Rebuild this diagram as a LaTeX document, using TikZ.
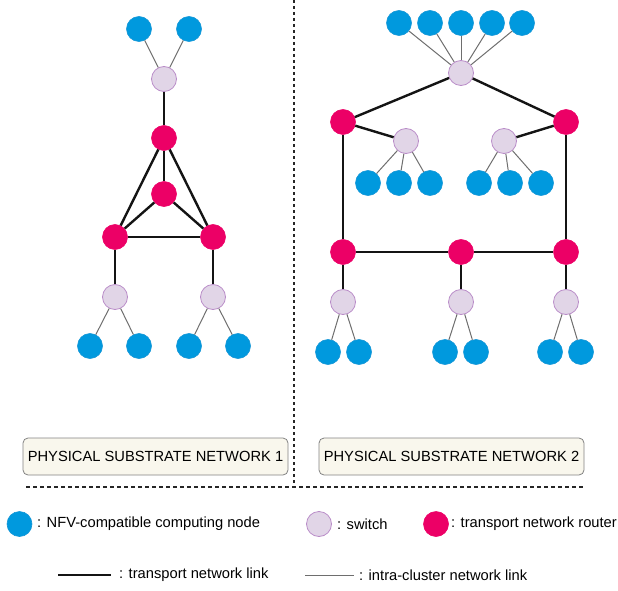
\documentclass[tikz,border=0pt]{standalone}
\usepackage{fontspec}
\setmainfont{Liberation Sans}
\definecolor{nfvblue}{RGB}{0,153,222}
\definecolor{nfvbluedraw}{RGB}{20,150,215}
\definecolor{routerred}{RGB}{236,0,102}
\definecolor{switchfill}{RGB}{225,213,231}
\definecolor{switchdraw}{RGB}{185,140,200}
\definecolor{boxfill}{RGB}{249,247,237}
\definecolor{boxdraw}{RGB}{130,130,130}
\definecolor{thinline}{RGB}{110,110,110}
\definecolor{thickline}{RGB}{20,20,20}
\begin{document}
\begin{tikzpicture}[x=1pt,y=-1pt,
  every node/.style={font=\fontsize{14.7}{17}\selectfont},
  cnode/.style={circle,minimum size=25pt,inner sep=0pt,fill=nfvblue,draw=nfvbluedraw,line width=0.6pt},
  swnode/.style={circle,minimum size=25pt,inner sep=0pt,fill=switchfill,draw=switchdraw,line width=0.8pt},
  rtnode/.style={circle,minimum size=25pt,inner sep=0pt,fill=routerred,draw=routerred,line width=0.6pt},
  tlink/.style={draw=thickline,line width=2.4pt},
  clink/.style={draw=thinline,line width=1pt},
  titlebox/.style={draw=boxdraw,fill=boxfill,rounded corners=5pt,minimum width=265pt,minimum height=37pt,inner sep=0pt,line width=0.8pt},
  legtext/.style={anchor=west,inner sep=0pt}
]
\useasboundingbox (0,0) rectangle (618,591);

% ---------- separators ----------
\coordinate (vtop) at (294,0);
\coordinate (vbot) at (294,487);
\coordinate (hl) at (26,487);
\coordinate (hr) at (585,487);
\draw[line width=1.2pt,dash pattern=on 3pt off 3pt,black!85] (vtop) -- (vbot);
\draw[line width=1.2pt,dash pattern=on 4pt off 3pt,black!85] (hl) -- (hr);

% ---------- network 1 ----------
\node[cnode] (a1) at (139,29) {};
\node[cnode] (a2) at (189,29) {};
\node[swnode] (as) at (164,79) {};
\node[rtnode] (ar0) at (164,138) {};
\node[rtnode] (arm) at (164,194) {};
\node[rtnode] (arl) at (115,237) {};
\node[rtnode] (arr) at (213,237) {};
\node[swnode] (asl) at (115,297) {};
\node[swnode] (asr) at (213,297) {};
\node[cnode] (b1) at (90,346) {};
\node[cnode] (b2) at (139,346) {};
\node[cnode] (b3) at (189,346) {};
\node[cnode] (b4) at (238,346) {};

\draw[clink] (a1) -- (as);
\draw[clink] (a2) -- (as);
\draw[tlink] (as) -- (ar0);
\draw[tlink] (ar0) -- (arm);
\draw[tlink] (ar0) -- (arl);
\draw[tlink] (ar0) -- (arr);
\draw[tlink] (arm) -- (arl);
\draw[tlink] (arm) -- (arr);
\draw[tlink] (arl) -- (arr);
\draw[tlink] (arl) -- (asl);
\draw[tlink] (arr) -- (asr);
\draw[clink] (asl) -- (b1);
\draw[clink] (asl) -- (b2);
\draw[clink] (asr) -- (b3);
\draw[clink] (asr) -- (b4);

% ---------- network 2 ----------
\node[cnode] (t1) at (399,23) {};
\node[cnode] (t2) at (430,23) {};
\node[cnode] (t3) at (461,23) {};
\node[cnode] (t4) at (492,23) {};
\node[cnode] (t5) at (522,23) {};
\node[swnode] (ts) at (461,73) {};
\node[rtnode] (rl) at (343,122) {};
\node[rtnode] (rr) at (566,122) {};
\node[swnode] (sl) at (406,141) {};
\node[swnode] (sr) at (504,141) {};
\node[cnode] (m1) at (368,183) {};
\node[cnode] (m2) at (399,183) {};
\node[cnode] (m3) at (430,183) {};
\node[cnode] (m4) at (479,183) {};
\node[cnode] (m5) at (510,183) {};
\node[cnode] (m6) at (541,183) {};
\node[rtnode] (q1) at (343,252) {};
\node[rtnode] (q2) at (461,252) {};
\node[rtnode] (q3) at (566,252) {};
\node[swnode] (p1) at (343,302) {};
\node[swnode] (p2) at (461,302) {};
\node[swnode] (p3) at (566,302) {};
\node[cnode] (n1) at (328,352) {};
\node[cnode] (n2) at (359,352) {};
\node[cnode] (n3) at (445,352) {};
\node[cnode] (n4) at (476,352) {};
\node[cnode] (n5) at (550,352) {};
\node[cnode] (n6) at (581,352) {};

\foreach \t in {t1,t2,t3,t4,t5} \draw[clink] (\t) -- (ts);
\draw[tlink] (ts) -- (rl);
\draw[tlink] (ts) -- (rr);
\draw[tlink] (rl) -- (sl);
\draw[tlink] (rr) -- (sr);
\foreach \m in {m1,m2,m3} \draw[clink] (sl) -- (\m);
\foreach \m in {m4,m5,m6} \draw[clink] (sr) -- (\m);
\draw[tlink] (rl) -- (q1);
\draw[tlink] (rr) -- (q3);
\draw[tlink] (q1) -- (q2);
\draw[tlink] (q2) -- (q3);
\draw[tlink] (q1) -- (p1);
\draw[tlink] (q2) -- (p2);
\draw[tlink] (q3) -- (p3);
\draw[clink] (p1) -- (n1);
\draw[clink] (p1) -- (n2);
\draw[clink] (p2) -- (n3);
\draw[clink] (p2) -- (n4);
\draw[clink] (p3) -- (n5);
\draw[clink] (p3) -- (n6);

% ---------- title boxes ----------
\node[titlebox] (box1) at (155.5,456.5) {PHYSICAL SUBSTRATE NETWORK 1};
\node[titlebox] (box2) at (451.5,456.5) {PHYSICAL SUBSTRATE NETWORK 2};

% ---------- legend ----------
\node[cnode] (lc) at (19.5,524) {};
\node[legtext] (lct) at (37,524) {: NFV-compatible computing node};
\node[swnode] (ls) at (319,524) {};
\node[legtext] (lst) at (337,524) {: switch};
\node[rtnode] (lr) at (436,524) {};
\node[legtext] (lrt) at (451,524) {: transport network router};

\coordinate (lt1) at (58,575);
\coordinate (lt2) at (111,575);
\draw[tlink] (lt1) -- (lt2);
\node[legtext] (ltt) at (119,575) {: transport network link};
\coordinate (li1) at (305,575);
\coordinate (li2) at (354,575);
\draw[clink] (li1) -- (li2);
\node[legtext] (lit) at (359,575) {: intra-cluster network link};
\end{tikzpicture}
\end{document}
